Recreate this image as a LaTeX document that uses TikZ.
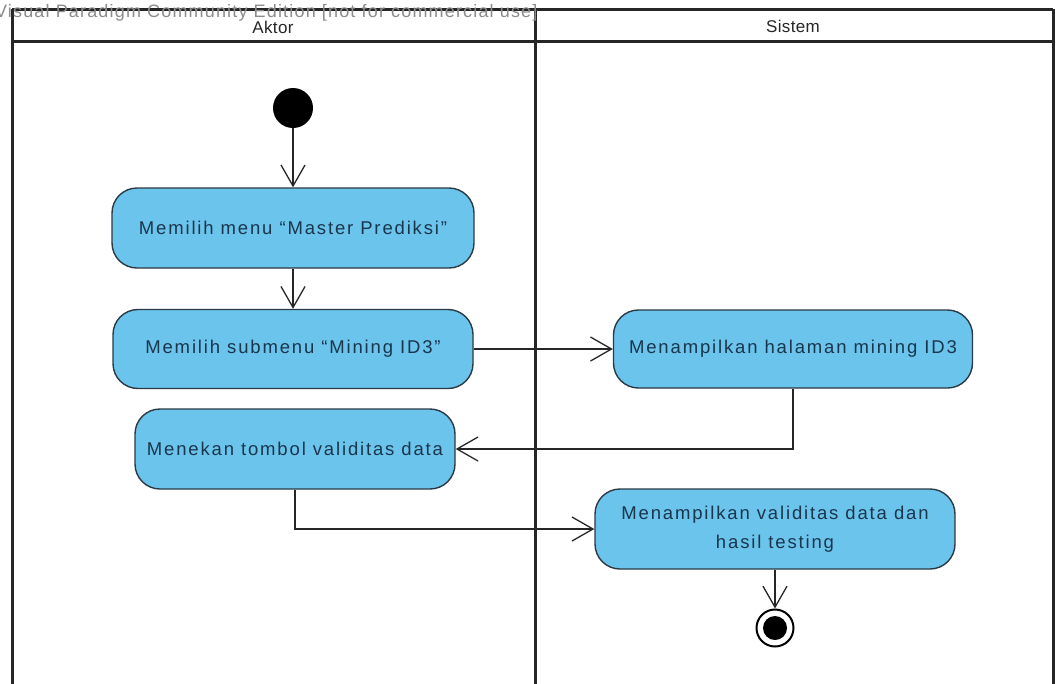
\documentclass[tikz,border=0pt]{standalone}
\usepackage{fontspec}
\setmainfont{Liberation Sans}
\newfontfamily\actfont[LetterSpace=10]{Liberation Sans}
\newfontfamily\headfont[LetterSpace=2]{Liberation Sans}
\newfontfamily\markfont[LetterSpace=6.5]{Liberation Sans}
\usetikzlibrary{arrows.meta}
\definecolor{actfill}{HTML}{6BC4EC}
\definecolor{actedge}{HTML}{2B3A45}
\definecolor{acttext}{HTML}{1A354C}
\tikzset{
  lane/.style={line width=3pt, draw=black!85},
  activity/.style={draw=actedge, line width=1.4pt, fill=actfill, rounded corners=25pt,
    text=acttext, font=\actfont\fontsize{18.5}{29}\selectfont, align=center,
    inner sep=0pt},
  flow/.style={draw=black!85, line width=1.3pt, -{Straight Barb[length=21pt,width=24pt,line width=1.3pt]}},
  lanehead/.style={font=\headfont\fontsize{17}{19}\selectfont, text=black!85},
}
\begin{document}
\begin{tikzpicture}[x=1pt, y=-1pt]
\useasboundingbox (0,0) rectangle (1056,683);
\clip (0,0) rectangle (1056,683);
\fill[white] (0,0) rectangle (1056,683);

% swimlane frame
\draw[lane] (12,9) -- (1053,9);
\draw[lane] (12,9) -- (12,700);
\draw[lane] (1053,9) -- (1053,700);
\draw[lane] (12,41) -- (1053,41);
\draw[lane] (535,9) -- (535,700);

% editor watermark
\node[anchor=east, font=\markfont\fontsize{18}{20}\selectfont, text=black!45] (vp) at (541,13)
  {Visual Paradigm Community Edition [not for commercial use]};

% lane titles
\node[lanehead] (aktor) at (273,27) {Aktor};
\node[lanehead] (sistem) at (793,26) {Sistem};

% start node
\node[circle, fill=black, minimum size=40pt, inner sep=0pt] (init) at (293,108) {};

% activities
\node[activity, minimum width=362pt, minimum height=80pt] (b1) at (293,228)
  {Memilih menu “Master Prediksi”};
\node[activity, minimum width=360pt, minimum height=79pt] (b2) at (293,349)
  {Memilih submenu “Mining ID3”};
\node[activity, minimum width=320pt, minimum height=80pt] (b3) at (295,449)
  {Menekan tombol validitas data};
\node[activity, minimum width=359pt, minimum height=78pt] (b4) at (793,349)
  {Menampilkan halaman mining ID3};
\node[activity, minimum width=360pt, minimum height=80pt] (b5) at (775,529)
  {Menampilkan validitas data dan\\hasil testing};

% final node
\node[circle, draw=black, line width=2pt, fill=white, minimum size=37pt, inner sep=0pt] (final) at (775,628) {};
\node[circle, fill=black, minimum size=24pt, inner sep=0pt] (finaldot) at (final.center) {};

% control flows
\draw[flow] (init) -- (b1);
\draw[flow] (b1) -- (b2);
\draw[flow] (b2) -- (b4);
\draw[flow] (b4.south) |- (b3.east);
\draw[flow] (b3.south) |- (b5.west);
\draw[flow] (b5) -- (final);
\end{tikzpicture}
\end{document}
